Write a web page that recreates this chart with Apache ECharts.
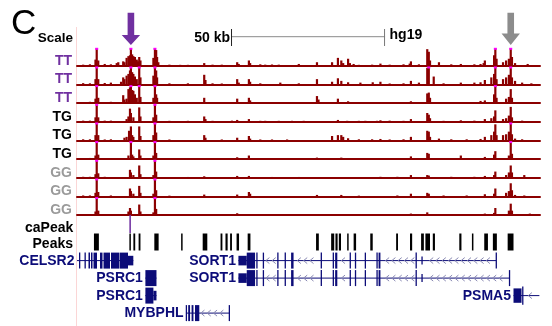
<!DOCTYPE html>
<html><head><meta charset="utf-8">
<script src="https://cdn.jsdelivr.net/npm/echarts@6/dist/echarts.min.js"></script>
<style>html,body{margin:0;padding:0;background:#fff}#c{width:552px;height:326px}</style>
</head><body><div id="c"></div>
<script>
// ---------------- data (genomic positions in kb from left edge of window) ----------------
const XMAX = 150.3;
const trackLabels = ['TT','TT','TT','TG','TG','TG','GG','GG','GG'];

const tt1 = [[2.0,0.06],[4.2,0.08],[6.0,0.35],[6.4,1.2],[6.9,0.3],[9.0,0.1],[11.0,0.08],
 [12.9,0.15],[13.4,0.2],[15.0,0.25],[15.4,0.2],[16.1,0.45],[16.7,0.55],[17.2,0.6],[17.5,1.2],[17.9,0.65],[18.3,0.55],[18.8,0.5],[19.4,0.35],[19.8,0.25],[20.2,0.5],[20.6,0.3],
 [24.8,0.45],[25.3,1.2],[25.7,0.9],[26.0,0.5],[26.4,0.2],[30.0,0.06],[33.5,0.05],[36.0,0.05],
 [41.3,0.15],[44.0,0.06],[47.0,0.06],[52.0,0.2],[52.5,0.1],[55.8,0.3],[56.2,0.15],[59.5,0.08],[61.1,0.06],[63.3,0.07],[65.5,0.06],[72.0,0.1],
 [77.9,0.2],[82.8,0.2],[84.7,0.45],[85.8,0.3],[86.4,0.15],[88.0,0.4],[88.6,0.15],[89.8,0.1],[91.5,0.05],[95.8,0.06],[98.5,0.12],
 [101.5,0.06],[106.0,0.08],[108.0,0.12],[108.4,0.25],[111.0,0.08],[113.7,0.95],[114.2,0.8],[114.6,0.3],[117.5,0.2],[121.5,0.08],[124.6,0.1],[129.0,0.08],[131.0,0.1],
 [132.0,0.15],[132.4,0.3],[135.4,0.6],[135.8,1.2],[136.2,0.4],[138.3,0.2],[139.3,0.3],[140.2,0.4],[140.8,1.2],[141.2,0.5],[142.2,0.15],[146.3,0.1]];
const tt2 = [[2.0,0.07],[4.2,0.06],[6.0,0.3],[6.4,1.2],[6.9,0.3],[9.0,0.08],[11.0,0.1],
 [14.3,0.15],[15.0,0.4],[15.4,0.3],[16.1,0.5],[16.7,0.6],[17.2,0.8],[17.5,1.2],[17.9,0.7],[18.3,0.6],[18.8,0.45],[19.4,0.3],[20.2,1.2],[20.6,0.4],
 [24.8,0.5],[25.3,1.2],[25.7,0.8],[26.0,0.4],[30.0,0.06],[36.0,0.06],
 [41.3,0.55],[41.7,0.25],[44.0,0.06],[47.0,0.05],[52.0,0.3],[52.5,0.1],[55.8,0.3],[56.2,0.15],[59.5,0.06],[66.0,0.1],[72.0,0.06],
 [77.9,0.3],[82.8,0.15],[84.7,0.35],[85.8,0.2],[88.0,0.12],[92.0,0.1],[96.0,0.12],[98.5,0.15],
 [101.5,0.05],[106.0,0.06],[108.4,0.2],[111.0,0.1],[113.7,0.95],[114.2,1.2],[115.8,0.45],[119.0,0.06],[124.6,0.1],[129.0,0.1],[131.0,0.12],
 [132.4,0.25],[134.5,0.4],[135.4,0.6],[135.8,1.2],[136.2,0.3],[138.3,0.3],[139.3,0.4],[140.2,0.55],[140.8,1.2],[141.2,0.4],[142.2,0.2],[144.5,0.1],[147.5,0.06]];
const tt3 = [[2.0,0.06],[4.2,0.07],[6.0,0.25],[6.4,1.2],[6.9,0.3],[9.0,0.06],[11.0,0.07],
 [15.0,0.45],[15.4,0.2],[16.1,0.25],[16.7,0.8],[17.2,0.9],[17.5,1.2],[17.9,0.75],[18.3,0.7],[18.8,0.5],[19.4,0.3],[20.2,1.2],[20.6,0.35],
 [24.8,0.3],[25.3,1.2],[25.7,0.5],[26.0,0.3],[30.0,0.05],[36.0,0.05],
 [41.3,0.3],[44.0,0.05],[52.0,0.25],[55.8,0.3],[56.2,0.15],[59.5,0.05],[63.3,0.05],
 [77.9,0.4],[78.4,0.2],[84.7,0.25],[88.0,0.1],[91.5,0.05],[98.5,0.05],
 [101.5,0.05],[106.0,0.06],[108.4,0.1],[113.7,0.55],[114.2,0.6],[114.6,0.3],[121.5,0.06],[126.5,0.05],[131.0,0.12],
 [132.4,0.15],[135.4,0.5],[135.8,1.2],[136.2,0.3],[139.3,0.25],[140.2,0.35],[140.8,0.8],[141.2,0.3],[147.5,0.05]];
const tg1 = [[2.0,0.06],[4.2,0.06],[6.0,0.25],[6.4,1.2],[6.9,0.25],[9.0,0.06],[11.0,0.06],
 [16.1,0.15],[16.7,0.3],[17.2,0.75],[17.5,0.5],[18.3,0.25],[20.2,0.82],[20.6,0.3],
 [24.8,0.25],[25.3,1.2],[25.7,0.4],[30.0,0.05],[36.0,0.05],
 [41.3,0.3],[41.7,0.15],[44.0,0.05],[50.3,0.06],[52.0,0.1],[55.8,0.15],[59.5,0.05],[61.1,0.05],[65.5,0.05],[69.8,0.05],[73.6,0.05],
 [84.7,0.1],[87.7,0.05],[91.5,0.05],[93.6,0.05],[97.4,0.05],[98.5,0.08],
 [101.5,0.06],[106.0,0.05],[108.4,0.15],[113.7,0.5],[114.2,0.4],[114.6,0.2],[119.0,0.05],[124.6,0.08],[129.0,0.06],
 [132.4,0.15],[134.5,0.2],[135.4,0.3],[135.8,0.65],[138.3,0.15],[139.3,0.2],[140.2,0.35],[140.8,0.85],[141.2,0.25],[144.5,0.06]];
const tg2 = [[2.0,0.06],[4.2,0.06],[6.0,0.3],[6.4,1.2],[6.9,0.3],[9.0,0.05],[11.0,0.06],
 [15.4,0.15],[16.1,0.2],[16.9,0.55],[17.5,0.8],[17.9,0.3],[18.3,0.2],[20.2,0.8],[20.6,0.25],
 [24.8,0.3],[25.3,1.2],[25.7,0.45],[30.0,0.05],
 [41.3,0.3],[41.7,0.15],[47.0,0.05],[52.0,0.15],[55.8,0.25],[56.2,0.1],[59.5,0.05],[63.3,0.05],[68.2,0.05],
 [82.8,0.25],[84.7,0.3],[85.8,0.3],[86.4,0.2],[88.0,0.12],[91.5,0.06],[95.8,0.06],[98.5,0.08],
 [101.5,0.05],[106.0,0.06],[108.4,0.2],[113.7,0.55],[114.2,0.5],[114.6,0.2],[117.5,0.1],[121.5,0.06],[126.5,0.06],[131.0,0.08],
 [132.4,0.2],[134.5,0.3],[135.4,0.5],[135.8,0.92],[136.2,0.3],[138.3,0.3],[139.3,0.35],[140.2,0.5],[140.8,1.2],[141.2,0.35],[142.2,0.1],[144.5,0.06]];
const tg3 = [[2.0,0.05],[4.2,0.06],[6.0,0.2],[6.4,1.2],[6.9,0.25],[11.0,0.05],
 [16.7,0.2],[17.5,1.2],[17.9,0.25],[18.3,0.15],[20.2,0.55],[20.6,0.2],
 [24.8,0.2],[25.3,1.2],[25.7,0.35],[33.5,0.05],
 [44.0,0.04],[52.0,0.1],[55.8,0.2],[77.9,0.08],[85.8,0.08],[93.6,0.04],
 [104.0,0.05],[108.4,0.15],[113.7,0.35],[114.2,0.3],[119.0,0.05],[124.6,0.2],[129.0,0.05],
 [132.4,0.12],[135.4,0.25],[135.8,0.45],[140.2,0.2],[140.8,1.2],[141.2,0.3],[147.5,0.05]];
const gg1 = [[2.0,0.05],[4.2,0.05],[6.0,0.2],[6.4,1.2],[6.9,0.25],[9.0,0.05],
 [17.2,0.45],[17.5,0.3],[18.3,0.15],[20.2,0.7],[20.6,0.2],
 [24.8,0.15],[25.3,1.2],[25.7,0.35],[36.0,0.04],
 [41.3,0.08],[52.0,0.1],[55.8,0.1],[63.3,0.04],[72.0,0.04],[98.5,0.05],
 [104.0,0.05],[108.4,0.15],[113.7,0.15],[114.2,0.12],[121.5,0.05],[129.0,0.05],
 [132.4,0.1],[135.4,0.15],[135.8,0.35],[139.3,0.15],[140.2,0.3],[140.8,0.7],[141.2,0.3],[145.2,0.15]];
const gg2 = [[2.0,0.05],[4.2,0.05],[6.0,0.2],[6.4,1.2],[6.9,0.25],[11.0,0.05],
 [17.2,0.45],[17.5,0.3],[18.3,0.15],[20.2,0.6],[20.6,0.2],
 [24.8,0.15],[25.3,1.2],[25.7,0.35],[30.0,0.04],
 [41.3,0.1],[52.0,0.1],[55.8,0.25],[56.2,0.15],[77.9,0.08],[85.8,0.08],[91.5,0.04],
 [104.0,0.05],[108.4,0.15],[113.7,0.2],[114.2,0.15],[119.0,0.05],[126.5,0.05],
 [132.4,0.12],[135.4,0.15],[135.8,0.45],[139.3,0.2],[140.2,0.3],[140.8,0.75],[141.2,0.35],[142.2,0.08],[145.2,0.05]];
const gg3 = [[2.0,0.05],[6.0,0.2],[6.4,1.2],[6.9,0.25],[9.0,0.04],
 [16.7,0.2],[17.2,0.4],[17.5,0.25],[20.2,0.6],[20.6,0.2],
 [24.8,0.15],[25.3,1.2],[25.7,0.35],
 [41.3,0.05],[52.0,0.1],[61.1,0.04],[98.5,0.04],
 [108.4,0.08],[113.7,0.15],[121.5,0.04],
 [132.4,0.08],[135.4,0.12],[135.8,0.4],[140.2,0.25],[140.8,0.65],[141.2,0.25],[147.0,0.08]];
const tracks = [tt1, tt2, tt3, tg1, tg2, tg3, gg1, gg2, gg3];

const caPeaks = [[17.0, 17.5]];
const peaks = [[5.5,7.1],[17.0,17.4],[18.3,18.9],[20.0,20.6],[25.1,26.5],[33.8,34.2],[40.8,42.3],
 [46.6,47.2],[48.2,48.9],[49.7,50.3],[51.8,52.6],[55.4,56.3],[77.6,78.5],[82.5,83.5],[83.9,84.6],
 [85.0,85.7],[87.7,88.1],[89.8,90.6],[95.2,96.0],[103.6,104.2],[108.1,108.8],[111.7,112.6],
 [113.1,114.6],[115.5,116.2],[124.1,124.8],[128.2,128.6],[132.2,133.4],[135.0,136.3],[139.8,141.7]];

const arrowPositions = [17.5, 140.8];
const arrowColors = ['#7030a0', '#8c8c8c'];
const scaleBar = [50, 100];

const geneNames = ['CELSR2','SORT1','SORT1','PSRC1','PSRC1','MYBPHL','PSMA5'];
const geneRows  = [0, 0, 1, 1, 2, 3, 2];
const geneSpans = [[0,18.28],[52.4,136.05],[52.4,140.4],[22.2,25.8],[22.2,25.8],[35.4,49.55],[141.7,150.1]];
const sort1Common = [[52.4,55.1,0.6],[55.1,57.8,1],[58.2,58.6,1],[60.3,60.7,1],[65.0,65.4,1],[67.4,67.8,1],
 [69.5,70.3,1],[79.1,79.5,1],[83.0,83.4,1],[83.8,84.5,1],[88.5,88.9,1],[90.2,90.6,1],[93.4,93.8,1],
 [97.2,97.6,1],[97.9,98.5,1],[109.9,110.3,1],[111.8,112.1,0.5]];
const geneExons = [
 [[0.65,0.97,1],[2.44,2.7,1],[3.73,4.22,1],[4.55,5.03,1],[5.36,6.49,1],[7.47,8.28,1],[8.61,10.72,1],[11.04,13.64,1],[13.8,16.56,1],[16.56,18.28,0.6]],
 sort1Common.concat([[135.9,136.2,1]]),
 sort1Common.concat([[140.2,140.5,1]]),
 [[22.2,25.8,1]],
 [[22.2,24.8,1],[24.8,25.8,0.6]],
 [[35.3,35.6,1],[36.1,36.7,1],[37.2,37.8,1],[38.3,39.7,1],[49.25,49.55,1]],
 [[141.7,144.3,0.9],[144.5,144.8,1.15]]
];

// ---------------- styles / layout ----------------
const FONT = '"Liberation Sans", Arial, Helvetica, sans-serif';
const SIG = '#8b0000', CLIP = '#ff00ff', GENE = '#0c0c78', CHEV = '#8a8ab4';
const LABEL_COLORS = {TT:'#7030a0', TG:'#000000', GG:'#9a9a9a'};
const PL = 77, PR = 12;
const TRACK_TOP = 48.3, TRACK_H = 17.4, TRACK_STEP = 18.66;
const ROW_H = 17.5, ROW0_Y = 260.6, EXON_H = 16;

const grids = [], xAxes = [], yAxes = [], series = [];
function addGrid(top, height, ymin, ymax, inverse, baseline) {
  const idx = grids.length;
  grids.push({left: PL, right: PR, top: top, height: height, containLabel: false});
  xAxes.push({type:'value', gridIndex: idx, min: 0, max: XMAX, show: !!baseline,
    axisLine: {show: !!baseline, onZero: false, lineStyle: {color: SIG, width: 2}},
    axisTick: {show: false}, axisLabel: {show: false}, splitLine: {show: false}});
  yAxes.push({type:'value', gridIndex: idx, min: ymin, max: ymax, inverse: !!inverse, show: false, splitLine:{show:false}});
  return idx;
}

// header grid
const gHead = addGrid(0, 48, 0, 1);
series.push({type:'custom', xAxisIndex:gHead, yAxisIndex:gHead, silent:true,
  data: arrowPositions.map((p,i)=>[p, 0, i]),
  renderItem: function(params, api){
    const cx = api.coord([api.value(0), 0])[0];
    const col = arrowColors[api.value(2)];
    const top = 12.7, neck = api.value(2) === 0 ? 35 : 33.5, tip = 45;
    return {type:'polygon', shape:{points:[[cx-3.3,top],[cx+3.3,top],[cx+3.3,neck],[cx+9.2,neck],[cx,tip],[cx-9.2,neck],[cx-3.3,neck]]}, style:{fill: col}};
  }});
series.push({type:'custom', xAxisIndex:gHead, yAxisIndex:gHead, silent:true,
  data: [[scaleBar[0], scaleBar[1]]],
  renderItem: function(params, api){
    const x0 = api.coord([api.value(0), 0])[0], x1 = api.coord([api.value(1), 0])[0];
    const y = 36.7;
    return {type:'group', children:[
      {type:'line', shape:{x1:x0, y1:y, x2:x1, y2:y}, style:{stroke:'#8a8a8a', lineWidth:1}},
      {type:'line', shape:{x1:x0+0.5, y1:29, x2:x0+0.5, y2:46}, style:{stroke:'#222', lineWidth:1}},
      {type:'line', shape:{x1:x1-0.5, y1:29, x2:x1-0.5, y2:46}, style:{stroke:'#777', lineWidth:1}},
      {type:'text', x:x0-1, y:37.8, style:{text:'50 kb', fill:'#000', font:'bold 14px '+FONT, textAlign:'right', textVerticalAlign:'middle', verticalAlign:'middle'}},
      {type:'text', x:x1+4.5, y:34.7, style:{text:'hg19', fill:'#000', font:'bold 14px '+FONT, textAlign:'left', textVerticalAlign:'middle', verticalAlign:'middle'}}
    ]};
  }});

// signal tracks
function signalItem(params, api) {
  const v = api.value(1);
  const b = api.coord([api.value(0), 0]);
  const t = api.coord([api.value(0), Math.min(v, 1)]);
  const w = 2.2;
  const ch = [{type:'rect', shape:{x:b[0]-w/2, y:t[1], width:w, height:b[1]-t[1]}, style:{fill:SIG}}];
  if (v >= 1) ch.push({type:'rect', shape:{x:b[0]-1.5, y:t[1]-0.5, width:3, height:2}, style:{fill:CLIP}});
  return {type:'group', children: ch};
}
tracks.forEach((d, i) => {
  const g = addGrid(TRACK_TOP + i*TRACK_STEP, TRACK_H, 0, 1, false, true);
  series.push({type:'custom', xAxisIndex:g, yAxisIndex:g, silent:true, data:d, encode:{x:0, y:1}, renderItem: signalItem});
});

// caPeak track
const gCa = addGrid(TRACK_TOP + 8*TRACK_STEP + TRACK_H, 18, 0, 1);
function intervalItem(color) {
  return function(params, api){
    const cs = params.coordSys;
    const x0 = api.coord([api.value(0), 0])[0], x1 = api.coord([api.value(1), 0])[0];
    const w = Math.max(1.5, x1 - x0);
    return {type:'rect', shape:{x:x0, y:cs.y, width:w, height:cs.height}, style:{fill:color}};
  };
}
series.push({type:'custom', xAxisIndex:gCa, yAxisIndex:gCa, silent:true, data: caPeaks, renderItem: intervalItem('#7030a0')});
// Peaks track
const gPk = addGrid(233.5, 17, 0, 1);
series.push({type:'custom', xAxisIndex:gPk, yAxisIndex:gPk, silent:true, data: peaks, renderItem: intervalItem('#000000')});

// genes
const gGene = addGrid(ROW0_Y - ROW_H/2, ROW_H*4, -0.5, 3.5, true);
series.push({type:'custom', xAxisIndex:gGene, yAxisIndex:gGene, silent:true,
  data: geneNames.map((n,i)=>[geneSpans[i][0], geneRows[i], i]),
  renderItem: function(params, api){
    const i = api.value(2);
    const cs = params.coordSys;
    const left = cs.x, right = cs.x + cs.width;
    const row = geneRows[i];
    const yc = api.coord([0, row])[1];
    const px = v => Math.max(left, Math.min(right, api.coord([v, row])[0]));
    const x0 = px(geneSpans[i][0]), x1 = px(geneSpans[i][1]);
    const ch = [{type:'line', shape:{x1:x0, y1:yc, x2:x1, y2:yc}, style:{stroke:GENE, lineWidth:1}}];
    const ex = geneExons[i].map(e => [px(e[0]), px(e[1]), e[2]]);
    for (let cx = x0 + 4; cx < x1 - 3; cx += 6.3) {
      if (ex.some(e => cx > e[0] - 3 && cx < e[1] + 3)) continue;
      ch.push({type:'polyline', shape:{points:[[cx+1.8, yc-3],[cx-1.8, yc],[cx+1.8, yc+3]]}, style:{stroke:CHEV, lineWidth:1, fill:null}});
    }
    ex.forEach(e => {
      const w = Math.max(1.3, e[1]-e[0]), h = EXON_H*e[2];
      ch.push({type:'rect', shape:{x:e[0], y:yc-h/2, width:w, height:h}, style:{fill:GENE}});
    });
    ch.push({type:'text', x:x0-2.5, y:yc+0.5, style:{text:geneNames[i], fill:GENE, font:'bold 14px '+FONT, textAlign:'right', textVerticalAlign:'middle', verticalAlign:'middle'}});
    return {type:'group', children: ch};
  }});

// left labels
const graphic = [
  {type:'line', shape:{x1:76.5, y1:27, x2:76.5, y2:326}, style:{stroke:'#fbd6d6', lineWidth:1}, z:-1},
  {type:'text', x:11, y:24.7, style:{text:'C', fill:'#000', font:'35px '+FONT, textAlign:'left', textVerticalAlign:'middle', verticalAlign:'middle'}},
  {type:'text', x:37.8, y:38, style:{text:'Scale', fill:'#000', font:'bold 13.5px '+FONT, textAlign:'left', textVerticalAlign:'middle', verticalAlign:'middle'}},
  {type:'text', x:73.3, y:228, style:{text:'caPeak', fill:'#000', font:'bold 14px '+FONT, textAlign:'right', textVerticalAlign:'middle', verticalAlign:'middle'}},
  {type:'text', x:73, y:244, style:{text:'Peaks', fill:'#000', font:'bold 14px '+FONT, textAlign:'right', textVerticalAlign:'middle', verticalAlign:'middle'}}
];
trackLabels.forEach((t, i) => {
  const base = TRACK_TOP + TRACK_H + i*TRACK_STEP;
  graphic.push({type:'text', x:72, y:base-5, style:{text:t, fill:LABEL_COLORS[t], font:'bold 14px '+FONT, textAlign:'right', textVerticalAlign:'middle', verticalAlign:'middle'}});
});

const chart = echarts.init(document.getElementById('c'), null, {renderer:'canvas'});
chart.setOption({animation:false, backgroundColor:'#ffffff', grid:grids, xAxis:xAxes, yAxis:yAxes, series:series, graphic:graphic});
</script></body></html>
